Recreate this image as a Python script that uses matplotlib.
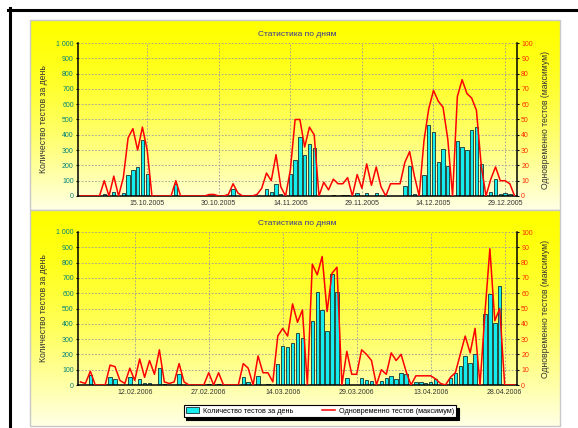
import numpy as np
import pandas as pd
import matplotlib
matplotlib.use('Agg')
import matplotlib.pyplot as plt
from matplotlib.patches import Patch, Rectangle
from matplotlib.lines import Line2D

plt.rcParams['font.family'] = ['Liberation Sans', 'DejaVu Sans']

# осень 2005
days_1 = pd.date_range('2005-10-01', '2005-12-31')
tests_1 = [0, 0, 0, 0, 0, 10, 0, 25, 0, 22,
           135, 168, 188, 365, 145, 0, 0, 0, 0, 0,
           80, 0, 0, 0, 0, 0, 0, 0, 0, 0,
           0, 0, 44, 0, 0, 0, 0, 0, 0, 46,
           24, 76, 13, 0, 146, 235, 388, 268, 340, 312,
           0, 3, 0, 8, 0, 5, 4, 0, 20, 0,
           20, 0, 17, 0, 0, 0, 0, 0, 65, 197,
           16, 0, 137, 464, 420, 224, 305, 196, 0, 362,
           318, 300, 431, 449, 209, 0, 24, 111, 10, 21,
           10, 0]
max_1 = [0, 0, 0, 0, 0, 10, 0, 13, 0, 12,
         38, 44, 30, 45, 30, 0, 0, 0, 0, 0,
         10, 0, 0, 0, 0, 0, 0, 1, 1, 0,
         0, 1, 8, 2, 0, 0, 0, 1, 5, 15,
         10, 27, 6, 0, 17, 50, 50, 32, 45, 40,
         0, 9, 4, 11, 8, 8, 12, 0, 14, 5,
         21, 7, 19, 6, 0, 8, 8, 8, 22, 29,
         13, 0, 36, 57, 69, 62, 58, 37, 0, 65,
         76, 67, 64, 56, 20, 0, 11, 19, 10, 10,
         8, 0]
ticks_1 = ['2005-10-15', '2005-10-30', '2005-11-14', '2005-11-29', '2005-12-14', '2005-12-29']

# весна 2006
days_2 = pd.date_range('2006-02-01', '2006-04-30')
tests_2 = [0, 0, 65, 0, 0, 0, 50, 38, 0, 0,
           55, 0, 37, 12, 15, 0, 110, 8, 0, 0,
           70, 0, 0, 0, 0, 0, 5, 0, 8, 0,
           0, 0, 0, 54, 17, 0, 59, 0, 6, 0,
           138, 257, 250, 274, 343, 304, 0, 420, 605, 489,
           353, 725, 605, 0, 43, 0, 0, 49, 35, 29,
           0, 25, 48, 61, 37, 80, 70, 0, 22, 22,
           11, 22, 37, 0, 0, 46, 77, 125, 187, 147,
           202, 0, 462, 592, 402, 648, 0, 0, 0]
max_2 = [2, 1, 9, 0, 0, 0, 13, 12, 3, 1,
         11, 3, 17, 5, 16, 7, 23, 2, 1, 2,
         14, 2, 0, 0, 0, 0, 8, 0, 8, 0,
         0, 0, 0, 14, 11, 0, 19, 8, 8, 2,
         32, 37, 32, 53, 41, 49, 0, 79, 72, 84,
         48, 73, 77, 0, 22, 7, 7, 23, 20, 16,
         0, 10, 7, 21, 16, 20, 9, 0, 6, 6,
         6, 6, 4, 1, 0, 5, 8, 20, 32, 21,
         37, 0, 47, 89, 42, 50, 0, 0, 0]
ticks_2 = ['2006-02-12', '2006-02-27', '2006-03-14', '2006-03-29', '2006-04-13', '2006-04-28']

title = 'Статистика по дням'
label_left = 'Количество тестов за день'
label_right = 'Одновременно тестов (максимум)'
left_ticks = [0, 100, 200, 300, 400, 500, 600, 700, 800, 900, 1000]
left_labels = ['0', '100', '200', '300', '400', '500', '600', '700', '800', '900', '1 000']
right_ticks = [0, 10, 20, 30, 40, 50, 60, 70, 80, 90, 100]

BAR = '#14ECEE'
BAR_EDGE = '#163232'
LINE = '#FF0000'

W, H = 578, 428
fig = plt.figure(figsize=(W / 100, H / 100), dpi=100)


def px(x0, y0, x1, y1):
    return [x0 / W, 1 - y1 / H, (x1 - x0) / W, (y1 - y0) / H]


def panel(y0, y1):
    # жёлтая подложка с градиентом
    bg = fig.add_axes(px(30, y0, 560, y1))
    t = np.linspace(0, 1, 256).reshape(-1, 1)
    rgb = np.ones((256, 1, 3))
    rgb[..., 2] = 0.9 * t ** 1.5
    bg.imshow(rgb, aspect='auto', extent=[0, 1, 0, 1], origin='upper')
    bg.set_xlim(0, 1)
    bg.set_ylim(0, 1)
    bg.axis('off')
    bg.add_patch(Rectangle((0, 0), 1, 1, transform=bg.transAxes, fill=False,
                           edgecolor='#c8c8c8', lw=1.0, clip_on=False))


def chart(y0, y1, days, tests, maxes, ticks):
    ax = fig.add_axes(px(78, y0, 517, y1))
    ax.set_facecolor('none')
    ax.bar(days, tests, width=0.7, color=BAR, edgecolor=BAR_EDGE, linewidth=0.6, zorder=2)
    ax.set_ylim(0, 1000)
    ax.set_xlim(days[0] - pd.Timedelta(hours=12), days[-1] + pd.Timedelta(hours=12))
    ax.set_yticks(left_ticks)
    ax.set_yticklabels(left_labels)
    tick_dates = pd.to_datetime(ticks)
    ax.set_xticks(tick_dates)
    ax.set_xticklabels([d.strftime('%d.%m.%Y') for d in tick_dates])
    ax.grid(True, color='#9a9a9a', linestyle=(0, (2, 2)), linewidth=0.6, zorder=0)
    ax.set_axisbelow(True)
    ax.tick_params(axis='y', labelsize=5, colors='black', labelcolor='#00807a', length=1.5, width=0.8, pad=1.5)
    ax.tick_params(axis='x', labelsize=5, labelcolor='#333333', length=0, pad=3)
    ax.set_ylabel(label_left, fontsize=6.2, color='#333333', labelpad=6)
    ax.spines['top'].set_visible(False)
    ax.spines['right'].set_visible(False)
    for s in ('left', 'bottom'):
        ax.spines[s].set_linewidth(1.1)
    ax.set_title(title, fontsize=6, color='#333399', pad=5)

    ax2 = ax.twinx()
    ax2.plot(days, maxes, color=LINE, linewidth=1.1, zorder=3)
    ax2.set_ylim(0, 100)
    ax2.set_yticks(right_ticks)
    ax2.tick_params(axis='y', labelsize=5, colors='black', labelcolor='#FF2a00', length=1.5, width=0.8, pad=1.5)
    ax2.set_ylabel(label_right, fontsize=6.2, color='#333333', labelpad=6)
    for s in ('top', 'left', 'bottom'):
        ax2.spines[s].set_visible(False)
    ax2.spines['right'].set_linewidth(1.1)
    return ax


panel(20, 210)
panel(210, 426)
chart(43, 196, days_1, tests_1, max_1, ticks_1)
chart(232, 385, days_2, tests_2, max_2, ticks_2)

handles = [Patch(facecolor=BAR, edgecolor=BAR_EDGE, linewidth=0.6),
           Line2D([], [], color=LINE, linewidth=1.1)]
leg = fig.legend(handles, [label_left, label_right], loc='center',
                 bbox_to_anchor=(320 / W, 1 - 411 / H), ncol=2, fontsize=5.2,
                 frameon=True, fancybox=False, edgecolor='black', framealpha=1,
                 shadow={'color': 'black', 'alpha': 1, 'ox': 2, 'oy': -2},
                 handlelength=1.8, handleheight=0.9, handletextpad=0.5,
                 columnspacing=4.0, borderpad=0.35)
leg.get_frame().set_linewidth(0.8)

# рамка страницы
fig.add_artist(Line2D([8 / W, 1], [1 - 9.5 / H, 1 - 9.5 / H], color='black', lw=2.2))
fig.add_artist(Line2D([9.5 / W, 9.5 / W], [0, 1 - 8 / H], color='black', lw=2.2))

fig.savefig('out.png', dpi=100)
